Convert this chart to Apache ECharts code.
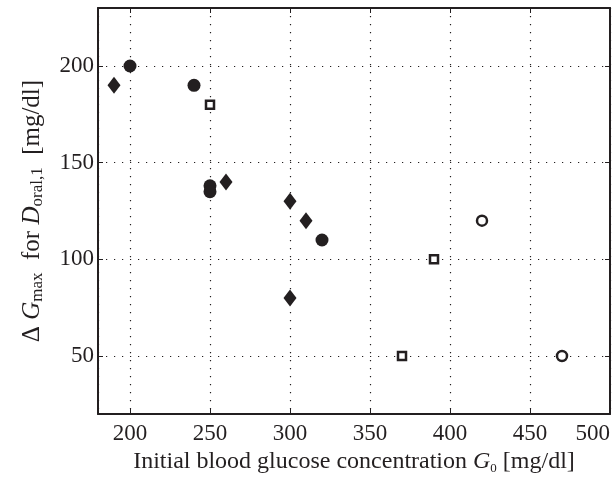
<!DOCTYPE html>
<html>
<head>
<meta charset="utf-8">
<script src="https://cdn.jsdelivr.net/npm/echarts@6/dist/echarts.min.js"></script>
<style>
html,body{margin:0;padding:0;background:#fff;}
#c{width:613px;height:483px;}
</style>
</head>
<body>
<div id="c"></div>
<script>
// Data
const diamondX = [190, 260, 300, 310, 300];
const diamondY = [190, 140, 130, 120, 80];
const dotX = [200, 240, 250, 250, 320];
const dotY = [200, 190, 138, 135, 110];
const squareX = [250, 390, 370];
const squareY = [180, 100, 50];
const ringX = [420, 470];
const ringY = [120, 50];
const xTicks = [200, 250, 300, 350, 400, 450, 500];
const yTicks = [50, 100, 150, 200];

const FONT = 'Liberation Serif';
const INK = '#231f20';
const pairs = (xs, ys) => xs.map((x, i) => [x, ys[i]]);

const chart = echarts.init(document.getElementById('c'), null, {renderer: 'canvas'});
const gridLine = {show: true, lineStyle: {color: INK, width: 1.2, type: [1.2, 6.8]}};
const tickStyle = {show: true, inside: true, length: 5, lineStyle: {color: INK, width: 1}};

chart.setOption({
  animation: false,
  backgroundColor: '#fff',
  grid: {left: 98, right: 3, top: 8, bottom: 69, containLabel: false},
  xAxis: [{
    type: 'value', min: 180, max: 500, splitNumber: 6,
    axisLine: {show: true, onZero: false, lineStyle: {color: INK, width: 2}},
    axisTick: tickStyle,
    splitLine: gridLine,
    axisLabel: {
      color: INK, fontFamily: FONT, fontSize: 23, margin: 8,
      showMinLabel: false, alignMaxLabel: 'right',
      formatter: v => (xTicks.indexOf(v) >= 0 ? String(v) : '')
    },
    name: '{n|Initial blood glucose concentration }{i|G}{s|0}{n| [mg/dl]}',
    nameLocation: 'middle', nameGap: 33,
    nameTextStyle: {
      rich: {
        n: {fontFamily: FONT, fontSize: 24, color: INK, lineHeight: 27},
        i: {fontFamily: FONT, fontSize: 24, fontStyle: 'italic', color: INK, lineHeight: 27},
        s: {fontFamily: FONT, fontSize: 13, color: INK, lineHeight: 27, verticalAlign: 'bottom', padding: [8, 0, 0, 0]}
      }
    }
  }, {
    type: 'value', min: 180, max: 500, splitNumber: 6, position: 'top',
    axisLine: {show: true, onZero: false, lineStyle: {color: INK, width: 2}},
    axisTick: tickStyle, axisLabel: {show: false}, splitLine: {show: false}
  }],
  yAxis: [{
    type: 'value', min: 20, max: 230, splitNumber: 4,
    axisLine: {show: true, onZero: false, lineStyle: {color: INK, width: 2}},
    axisTick: tickStyle,
    splitLine: gridLine,
    axisLabel: {
      color: INK, fontFamily: FONT, fontSize: 23, margin: 4,
      showMinLabel: false, showMaxLabel: false,
      formatter: v => (yTicks.indexOf(v) >= 0 ? String(v) : '')
    },
    name: '{n|Δ }{i|G}{s|max}{n|  for }{i|D}{s|oral,1}{n|  [mg/dl]}',
    nameLocation: 'middle', nameGap: 52, nameRotate: 90,
    nameTextStyle: {
      rich: {
        n: {fontFamily: FONT, fontSize: 25, color: INK, lineHeight: 28},
        i: {fontFamily: FONT, fontSize: 25, fontStyle: 'italic', color: INK, lineHeight: 28},
        s: {fontFamily: FONT, fontSize: 17, color: INK, lineHeight: 28, verticalAlign: 'bottom', padding: [15, 0, 0, 0]}
      }
    }
  }, {
    type: 'value', min: 20, max: 230, splitNumber: 4, position: 'right',
    axisLine: {show: true, onZero: false, lineStyle: {color: INK, width: 2}},
    axisTick: tickStyle, axisLabel: {show: false}, splitLine: {show: false}
  }],
  series: [
    {type: 'scatter', data: pairs(diamondX, diamondY), symbol: 'diamond', symbolSize: [13, 17],
     itemStyle: {color: INK, opacity: 1}},
    {type: 'scatter', data: pairs(dotX, dotY), symbol: 'circle', symbolSize: 13,
     itemStyle: {color: INK, opacity: 1}},
    {type: 'scatter', data: pairs(squareX, squareY), symbol: 'rect', symbolSize: 8,
     itemStyle: {color: '#fff', borderColor: INK, borderWidth: 2.5, opacity: 1}},
    {type: 'scatter', data: pairs(ringX, ringY), symbol: 'circle', symbolSize: 10,
     itemStyle: {color: '#fff', borderColor: INK, borderWidth: 2.5, opacity: 1}}
  ]
});
</script>
</body>
</html>
